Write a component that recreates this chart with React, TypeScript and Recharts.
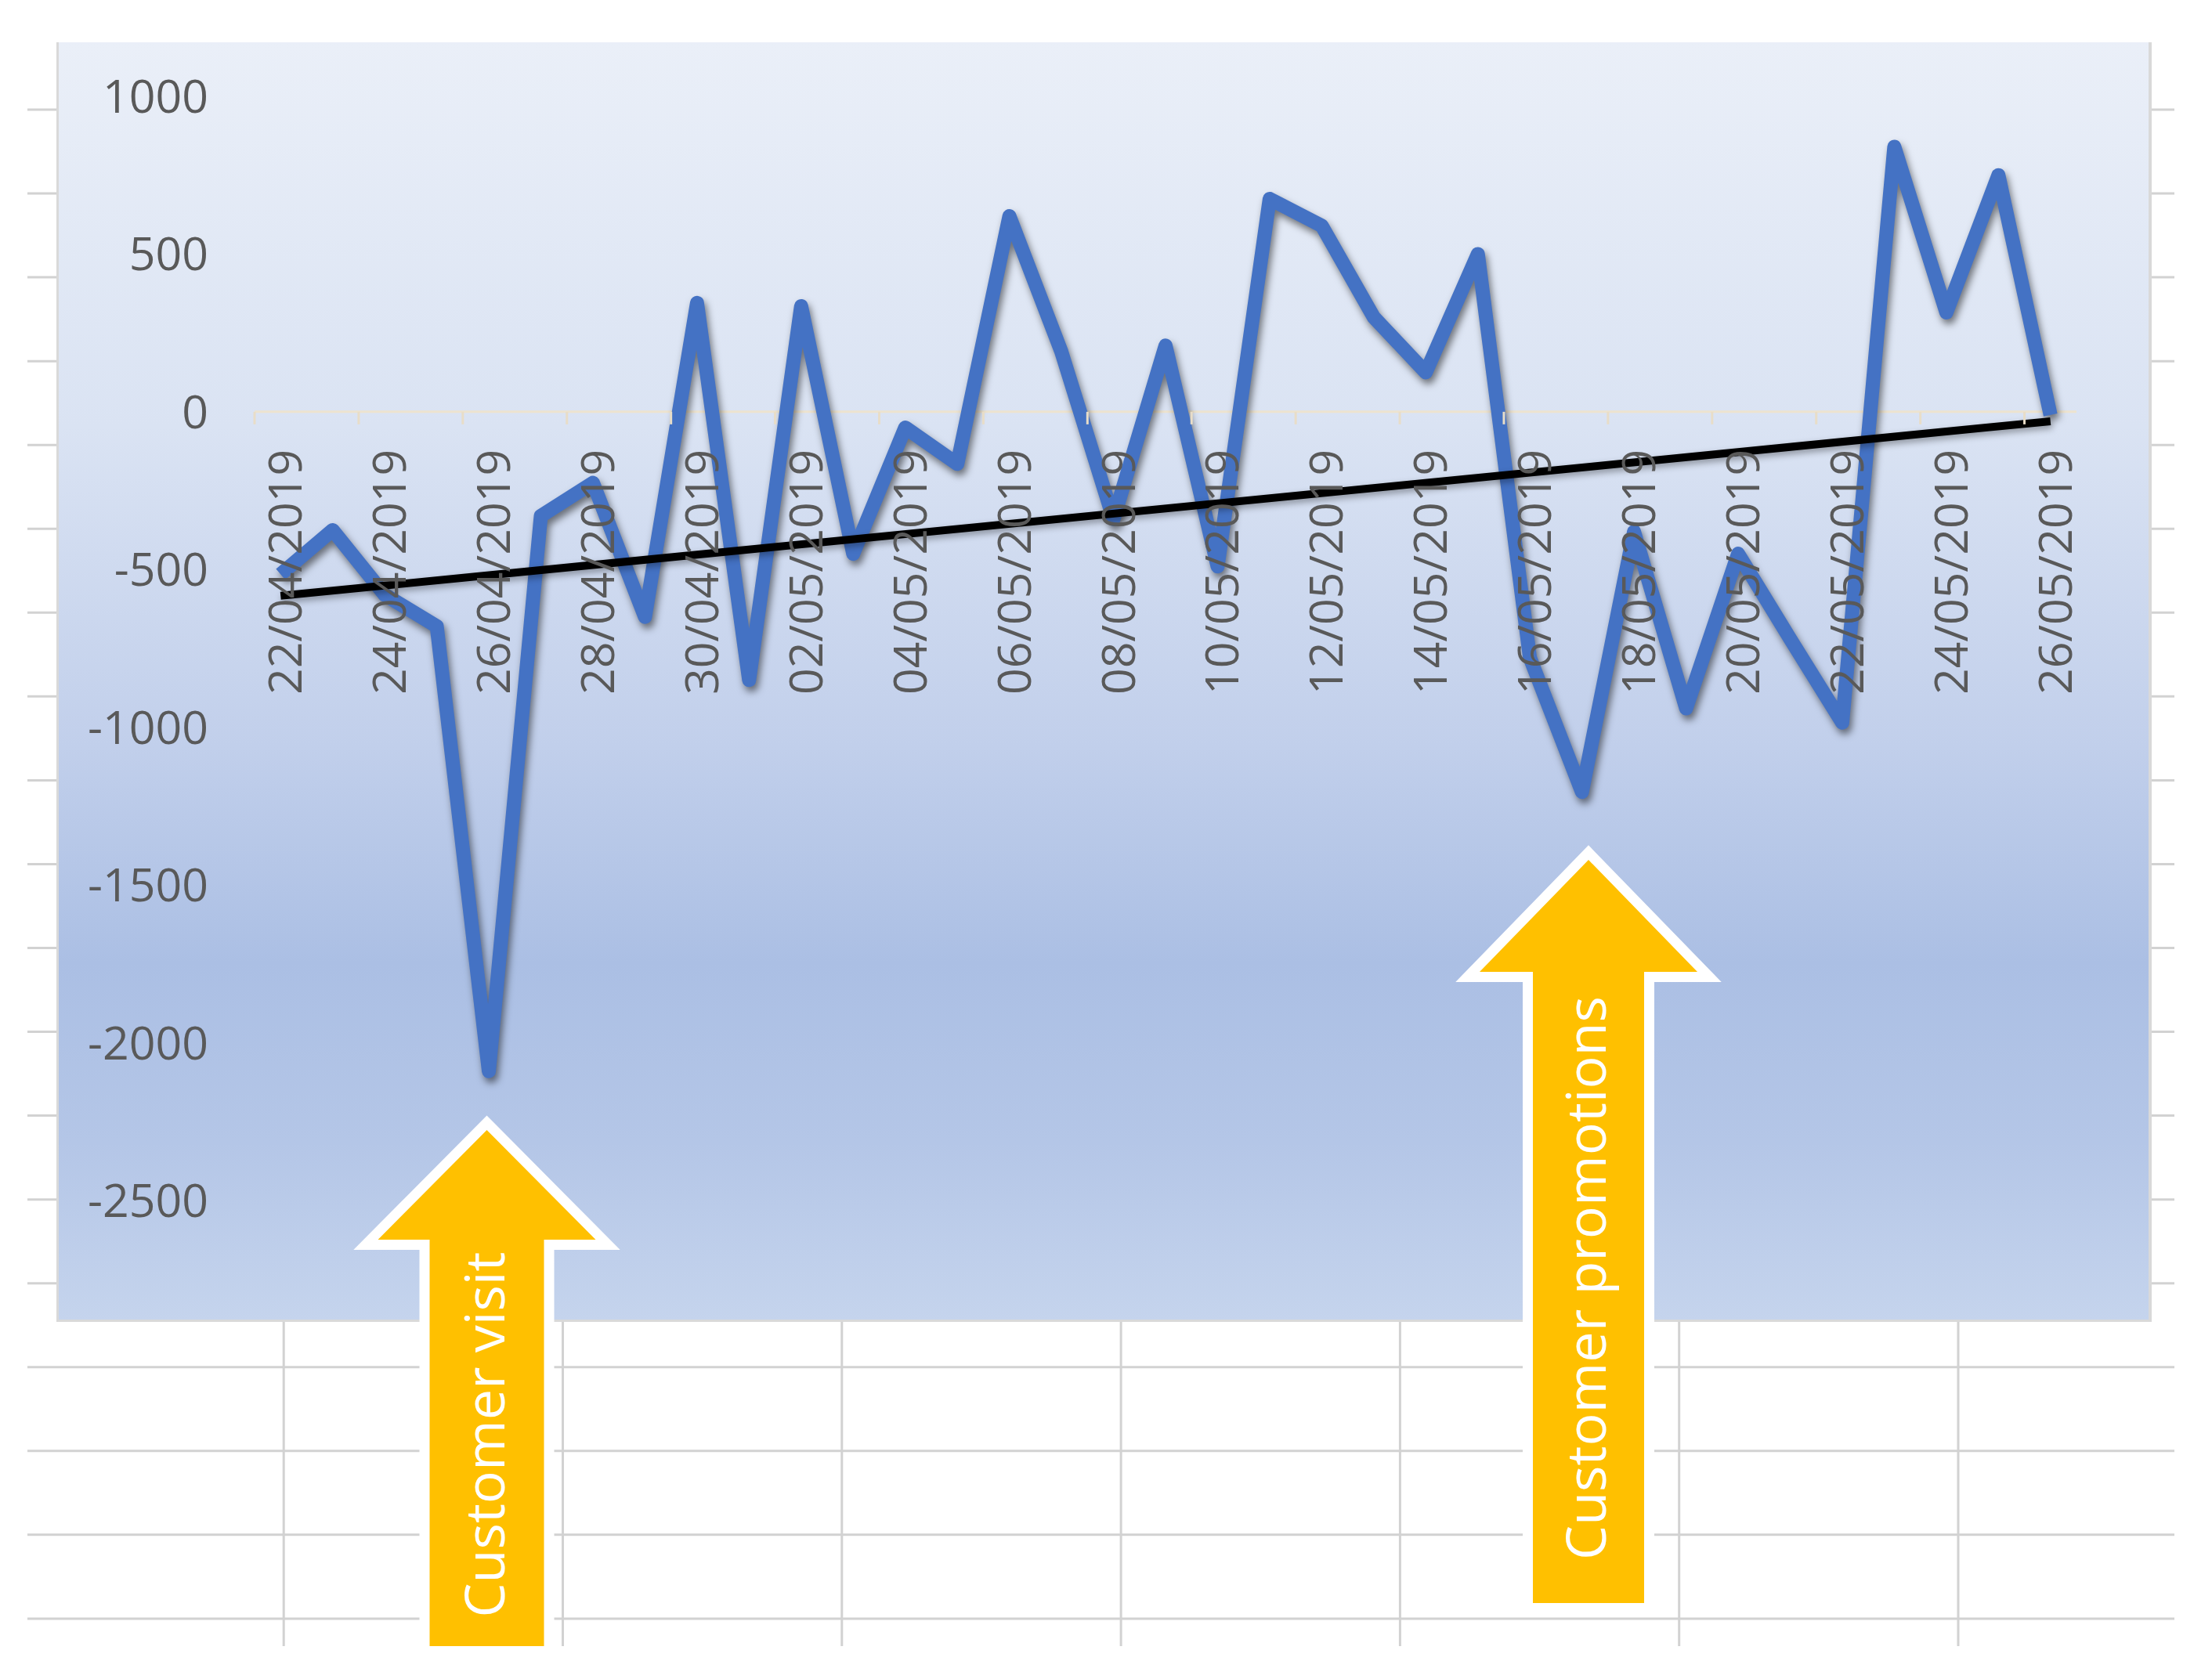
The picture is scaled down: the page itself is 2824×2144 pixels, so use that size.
import React from 'react';
import { LineChart, Line, XAxis, YAxis, ReferenceLine, ReferenceDot } from 'recharts';

// ---- data ----
const DATES = [
  '22/04/2019', '23/04/2019', '24/04/2019', '25/04/2019', '26/04/2019', '27/04/2019',
  '28/04/2019', '29/04/2019', '30/04/2019', '01/05/2019', '02/05/2019', '03/05/2019',
  '04/05/2019', '05/05/2019', '06/05/2019', '07/05/2019', '08/05/2019', '09/05/2019',
  '10/05/2019', '11/05/2019', '12/05/2019', '13/05/2019', '14/05/2019', '15/05/2019',
  '16/05/2019', '17/05/2019', '18/05/2019', '19/05/2019', '20/05/2019', '21/05/2019',
  '22/05/2019', '23/05/2019', '24/05/2019', '25/05/2019', '26/05/2019',
];
const VALUES = [
  -515, -375, -580, -680, -2090, -330,
  -225, -650, 345, -850, 335, -450,
  -50, -165, 620, 190, -340, 210,
  -490, 675, 590, 300, 125, 500,
  -780, -1205, -380, -940, -450, -720,
  -985, 840, 315, 750, -10,
];
const TICK_LABELS = [
  '22/04/2019', '24/04/2019', '26/04/2019', '28/04/2019', '30/04/2019', '02/05/2019',
  '04/05/2019', '06/05/2019', '08/05/2019', '10/05/2019', '12/05/2019', '14/05/2019',
  '16/05/2019', '18/05/2019', '20/05/2019', '22/05/2019', '24/05/2019', '26/05/2019',
];
const Y_TICKS = [1000, 500, 0, -500, -1000, -1500, -2000, -2500];
const TREND_DATES = ['22/04/2019', '26/05/2019'];
const TREND_VALUES = [-583, -30];
const ANNOTATIONS = ['Customer visit', 'Customer promotions'];

const data = DATES.map((d, i) => ({ date: d, value: VALUES[i] }));

// ---- layout ----
const PAGE_W = 2824;
const PAGE_H = 2144;
const CH_X = 72;
const CH_Y = 54;
const CH_W = 2675;
const CH_H = 1634;
const MARGIN = { top: 69, right: 96, bottom: 155, left: 0 };
const Y_AXIS_W = 253;
const PLOT_W = CH_W - MARGIN.left - MARGIN.right - Y_AXIS_W;
const HALF_BAND = PLOT_W / DATES.length / 2;
const FONT = "'Open Sans', 'DejaVu Sans', sans-serif";
const LABEL_COLOR = '#595959';

const ROW_LINES = Array.from({ length: 19 }, (_, k) => 140 + 107.05 * k);
const COL_LINES = Array.from({ length: 7 }, (_, k) => 362.2 + 356.3 * k);

const CSS = `
.main-series path.recharts-line-curve { filter: drop-shadow(3px 6px 5px rgba(0,0,0,0.5)); }
.trend-line line { filter: drop-shadow(2px 4px 4px rgba(0,0,0,0.35)); }
`;

function XLabel(props: any) {
  const { cx, cy, text } = props;
  if (cx == null || cy == null) return null;
  const bx = cx + 27;
  const by = cy + 48;
  return (
    <g>
      <line x1={cx - HALF_BAND} x2={cx - HALF_BAND} y1={cy} y2={cy + 16} stroke="#E8DDC8" strokeWidth={3} />
      <text
        x={bx}
        y={by}
        transform={`rotate(-90 ${bx} ${by})`}
        textAnchor="end"
        fontSize={59}
        fill={LABEL_COLOR}
        fontFamily={FONT}
      >
        {text}
      </text>
    </g>
  );
}

function Arrow({ cx, tipY, baseY, bottomY, headHalf, shaftHalf, text, textCY }: any) {
  const pts = [
    [cx, tipY],
    [cx + headHalf, baseY],
    [cx + shaftHalf, baseY],
    [cx + shaftHalf, bottomY],
    [cx - shaftHalf, bottomY],
    [cx - shaftHalf, baseY],
    [cx - headHalf, baseY],
  ]
    .map((p) => p.join(','))
    .join(' ');
  const tx = cx + 22;
  return (
    <g>
      <polygon points={pts} fill="#FFFFFF" stroke="#FFFFFF" strokeWidth={26} strokeLinejoin="miter" />
      <polygon points={pts} fill="#FFC000" />
      <text
        x={tx}
        y={textCY}
        transform={`rotate(-90 ${tx} ${textCY})`}
        textAnchor="middle"
        fontSize={70}
        fill="#FFFFFF"
        fontFamily={FONT}
      >
        {text}
      </text>
    </g>
  );
}

export default function App() {
  return (
    <div
      style={{
        position: 'absolute',
        left: 0,
        top: 0,
        width: PAGE_W,
        height: PAGE_H,
        background: '#FFFFFF',
        overflow: 'hidden',
      }}
    >
      <style>{CSS}</style>
      <svg width={PAGE_W} height={PAGE_H} style={{ position: 'absolute', left: 0, top: 0 }}>
        <defs>
          <linearGradient id="chartBg" x1="0" y1="0" x2="0" y2="1">
            <stop offset="0" stopColor="#EAEFF8" />
            <stop offset="0.3" stopColor="#DAE3F3" />
            <stop offset="0.55" stopColor="#C1CFEB" />
            <stop offset="0.72" stopColor="#ABBFE4" />
            <stop offset="0.86" stopColor="#B4C6E7" />
            <stop offset="1" stopColor="#C5D4ED" />
          </linearGradient>
        </defs>
        {ROW_LINES.map((y, i) => (
          <line key={'r' + i} x1={35} x2={2776} y1={y} y2={y} stroke="#D2D2D2" strokeWidth={3} />
        ))}
        {COL_LINES.map((x, i) => (
          <line key={'c' + i} x1={x} x2={x} y1={CH_Y + CH_H} y2={2102} stroke="#D2D2D2" strokeWidth={3} />
        ))}
        <rect x={CH_X} y={CH_Y} width={CH_W} height={CH_H} fill="url(#chartBg)" />
        <line x1={CH_X + 1.5} x2={CH_X + 1.5} y1={CH_Y} y2={CH_Y + CH_H} stroke="#D9D9D9" strokeWidth={3} />
        <line x1={CH_X + CH_W - 2} x2={CH_X + CH_W - 2} y1={CH_Y} y2={CH_Y + CH_H} stroke="#D9D9D9" strokeWidth={4} />
        <line x1={CH_X} x2={CH_X + CH_W} y1={CH_Y + CH_H - 1.5} y2={CH_Y + CH_H - 1.5} stroke="#D9D9D9" strokeWidth={3} />
      </svg>

      <div style={{ position: 'absolute', left: CH_X, top: CH_Y }}>
        <LineChart width={CH_W} height={CH_H} data={data} margin={MARGIN}>
          <XAxis dataKey="date" scale="band" hide />
          <YAxis
            type="number"
            domain={[-2500, 1000]}
            ticks={Y_TICKS}
            interval={0}
            allowDataOverflow
            width={Y_AXIS_W}
            axisLine={false}
            tickLine={false}
            tickSize={0}
            tickMargin={59}
            tick={{ fill: LABEL_COLOR, fontSize: 59, fontFamily: FONT }}
          />
          <ReferenceLine y={0} stroke="#EDE3CF" strokeWidth={3} />
          <Line
            className="main-series"
            type="linear"
            dataKey="value"
            stroke="#4472C4"
            strokeWidth={18}
            strokeLinejoin="round"
            strokeLinecap="butt"
            dot={false}
            activeDot={false}
            isAnimationActive={false}
          />
          {TICK_LABELS.map((d) => (
            <ReferenceDot
              key={d}
              x={d}
              y={0}
              r={0}
              isFront
              shape={(p: any) => <XLabel {...p} text={d} />}
            />
          ))}
          <ReferenceLine
            className="trend-line"
            isFront
            segment={[
              { x: TREND_DATES[0], y: TREND_VALUES[0] },
              { x: TREND_DATES[1], y: TREND_VALUES[1] },
            ]}
            stroke="#000000"
            strokeWidth={10}
          />
        </LineChart>
      </div>

      <svg width={PAGE_W} height={PAGE_H} style={{ position: 'absolute', left: 0, top: 0, pointerEvents: 'none' }}>
        <Arrow cx={621.5} tipY={1443} baseY={1583} bottomY={2102} headHalf={139} shaftHalf={73} text={ANNOTATIONS[0]} textCY={1832} />
        <Arrow cx={2028} tipY={1098} baseY={1241} bottomY={2047} headHalf={139} shaftHalf={71} text={ANNOTATIONS[1]} textCY={1632} />
      </svg>
    </div>
  );
}
